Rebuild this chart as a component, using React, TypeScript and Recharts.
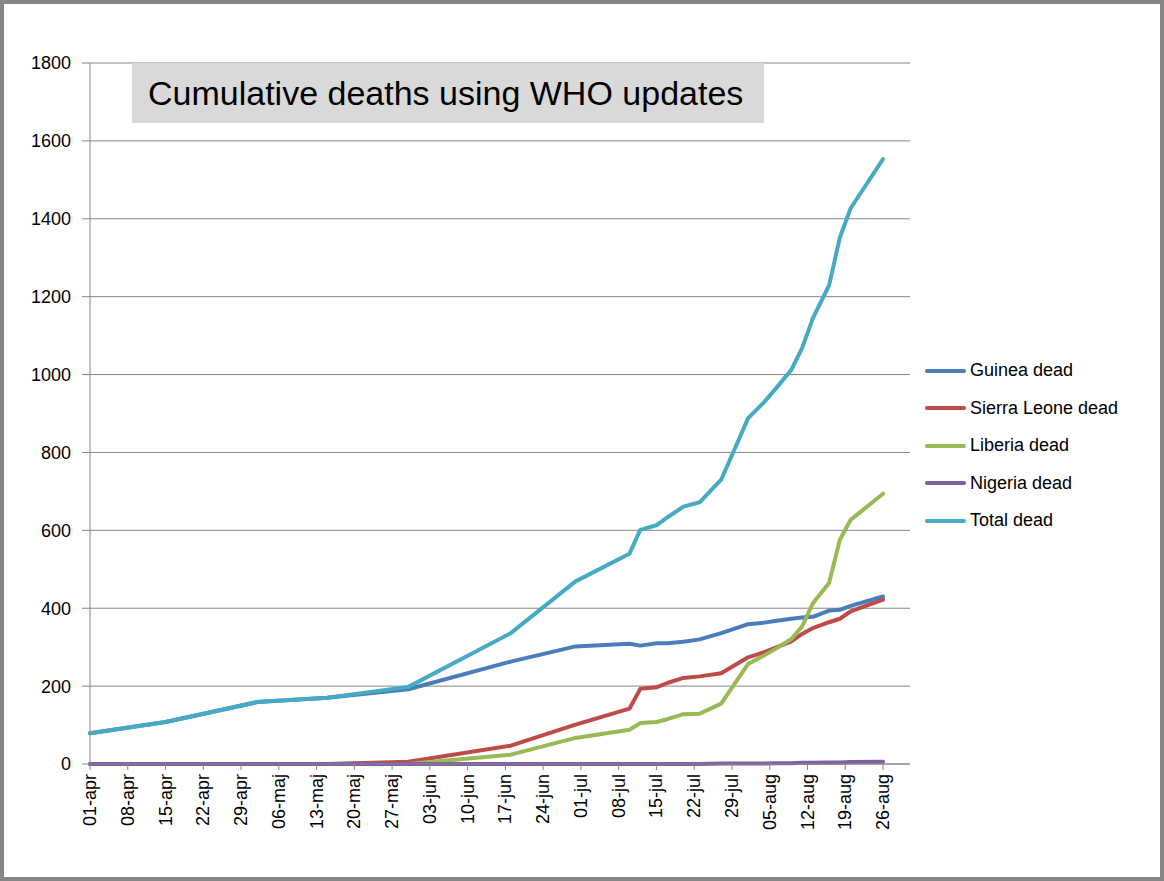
import React from 'react';
import { LineChart, Line, XAxis, YAxis, CartesianGrid, Legend } from 'recharts';

// WHO update dates (day-month, Danish month names as on the axis)
const dates = [
  '01-apr', '15-apr', '02-maj', '15-maj', '30-maj', '18-jun', '30-jun', '10-jul',
  '12-jul', '15-jul', '17-jul', '20-jul', '23-jul', '27-jul', '01-aug', '04-aug',
  '06-aug', '09-aug', '11-aug', '13-aug', '16-aug', '18-aug', '20-aug', '26-aug'
];

const guineaDead = [79, 108, 159, 170, 192, 263, 302, 309, 304, 310, 310, 314, 320, 336, 359, 363, 367, 373, 376, 378, 394, 396, 406, 430];
const sierraLeoneDead = [0, 0, 0, 0, 6, 47, 101, 142, 193, 197, 208, 221, 225, 233, 274, 287, 298, 315, 334, 349, 364, 373, 392, 422];
const liberiaDead = [0, 0, 0, 0, 0, 24, 67, 88, 105, 108, 115, 128, 129, 155, 257, 279, 295, 321, 353, 413, 465, 576, 627, 694];
const nigeriaDead = [0, 0, 0, 0, 0, 0, 0, 0, 0, 0, 0, 0, 0, 1, 1, 1, 2, 2, 3, 3, 4, 4, 5, 6];
const totalDead = [79, 108, 159, 170, 198, 336, 469, 540, 601, 613, 633, 661, 672, 730, 888, 930, 962, 1012, 1068, 1145, 1229, 1352, 1427, 1553];

const tickLabels = [
  '01-apr', '08-apr', '15-apr', '22-apr', '29-apr', '06-maj', '13-maj', '20-maj',
  '27-maj', '03-jun', '10-jun', '17-jun', '24-jun', '01-jul', '08-jul', '15-jul',
  '22-jul', '29-jul', '05-aug', '12-aug', '19-aug', '26-aug'
];
const yTicks = [0, 200, 400, 600, 800, 1000, 1200, 1400, 1600, 1800];
const axisEnd = '31-aug';

const series = [
  { key: 'guinea', name: 'Guinea dead', values: guineaDead, color: '#4A7EBB' },
  { key: 'sierraLeone', name: 'Sierra Leone dead', values: sierraLeoneDead, color: '#BE4B48' },
  { key: 'liberia', name: 'Liberia dead', values: liberiaDead, color: '#98B954' },
  { key: 'nigeria', name: 'Nigeria dead', values: nigeriaDead, color: '#7D60A0' },
  { key: 'total', name: 'Total dead', values: totalDead, color: '#46AAC5' }
];

// days since 1 April
const monthStart: Record<string, number> = { apr: 0, maj: 30, jun: 61, jul: 91, aug: 122 };
const dayOf = (d: string) => parseInt(d.slice(0, 2), 10) - 1 + monthStart[d.slice(3)];

const data = dates.map((d, i) => {
  const row: Record<string, number> = { day: dayOf(d) };
  series.forEach(s => { row[s.key] = s.values[i]; });
  return row;
});

const xTicks = tickLabels.map(dayOf);
const labelByDay: Record<number, string> = {};
tickLabels.forEach(l => { labelByDay[dayOf(l)] = l; });

const FONT = "'Liberation Sans', Arial, sans-serif";
const GRID = '#868686';

const DateTick = (props: any) => {
  const { x, y, payload } = props;
  return (
    <text
      x={x}
      y={y}
      transform={`rotate(-90, ${x}, ${y})`}
      textAnchor="end"
      dominantBaseline="central"
      fontSize={18}
      fontFamily={FONT}
      fill="#000"
    >
      {labelByDay[payload.value]}
    </text>
  );
};

// legend in series order (Recharts would sort it by name)
const renderLegend = () => (
  <div>
    {series.map(s => (
      <div key={s.key} style={{ display: 'flex', alignItems: 'center', height: 37.5 }}>
        <span
          style={{ display: 'inline-block', width: 41, height: 4, borderRadius: 2, marginRight: 4, backgroundColor: s.color }}
        />
        <span style={{ fontSize: 18, fontFamily: FONT, color: '#000' }}>{s.name}</span>
      </div>
    ))}
  </div>
);

export default function App() {
  return (
    <div style={{ position: 'absolute', left: 0, top: 0, width: 1164, height: 881, background: '#fff' }}>
      <LineChart width={1164} height={881} data={data} margin={{ top: 63, right: 254, bottom: 0, left: 0 }}>
        <CartesianGrid vertical={false} stroke={GRID} strokeWidth={1} />
        <XAxis
          dataKey="day"
          type="number"
          domain={[0, dayOf(axisEnd)]}
          ticks={xTicks}
          interval={0}
          height={117}
          tickSize={6}
          tickMargin={4}
          tick={<DateTick />}
          axisLine={{ stroke: GRID }}
          tickLine={{ stroke: GRID }}
        />
        <YAxis
          type="number"
          domain={[0, 1800]}
          ticks={yTicks}
          interval={0}
          width={90}
          tickSize={8}
          tickMargin={11}
          axisLine={{ stroke: GRID }}
          tickLine={{ stroke: GRID }}
          tick={{ fontSize: 18, fontFamily: FONT, fill: '#000' }}
        />
        {series.map(s => (
          <Line
            key={s.key}
            type="linear"
            dataKey={s.key}
            name={s.name}
            stroke={s.color}
            strokeWidth={4}
            strokeLinejoin="round"
            strokeLinecap="round"
            dot={false}
            activeDot={false}
            isAnimationActive={false}
          />
        ))}
        <Legend
          layout="vertical"
          align="center"
          verticalAlign="middle"
          wrapperStyle={{ left: 925, top: 352, width: 235 }}
          content={renderLegend}
        />
      </LineChart>
      <div
        style={{
          position: 'absolute', left: 132, top: 63, width: 632, height: 60,
          boxSizing: 'border-box', paddingLeft: 16, background: '#D9D9D9',
          fontFamily: FONT, fontSize: 34, lineHeight: '60px', color: '#000', whiteSpace: 'nowrap'
        }}
      >
        Cumulative deaths using WHO updates
      </div>
      <div
        style={{
          position: 'absolute', left: 0, top: 0, width: 1164, height: 881,
          boxSizing: 'border-box', border: '4px solid #858585', pointerEvents: 'none'
        }}
      />
    </div>
  );
}
